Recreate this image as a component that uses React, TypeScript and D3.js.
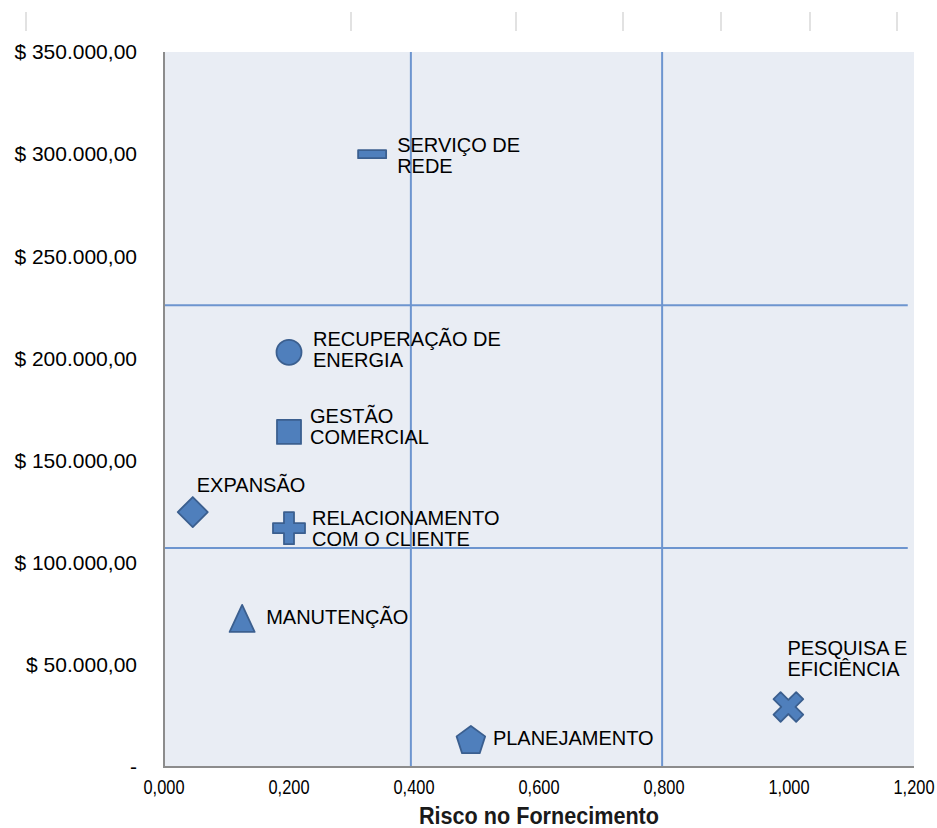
import React from "react";
import * as d3 from "d3";

const names: string[][] = [
  ["SERVIÇO DE", "REDE"],
  ["RECUPERAÇÃO DE", "ENERGIA"],
  ["GESTÃO", "COMERCIAL"],
  ["EXPANSÃO"],
  ["RELACIONAMENTO", "COM O CLIENTE"],
  ["MANUTENÇÃO"],
  ["PLANEJAMENTO"],
  ["PESQUISA E", "EFICIÊNCIA"],
];
const risk = [0.333, 0.2, 0.2, 0.046, 0.2, 0.125, 0.491, 0.999];
const cost = [300000, 203000, 164000, 124800, 116900, 72000, 13200, 29400];
const shapes = ["dash", "circle", "square", "diamond", "plus", "triangle", "pentagon", "x"];

const xTicks = [0, 0.2, 0.4, 0.6, 0.8, 1.0, 1.2];
const yTicks = [0, 50000, 100000, 150000, 200000, 250000, 300000, 350000];
const quadX = [0.395, 0.797];
const quadY = [226000, 107200];

// label layout (offset from marker, in px), style only
const labelOffsets: [number, number][] = [
  [25, 2.4], [24, -1.8], [21, -4.5], [4, -26], [23, 1.3], [24, -2], [22, -1], [-1, -47.5],
];

const W = 937, H = 828;
const x = d3.scaleLinear().domain([0, 1.2]).range([164, 914]);
const y = d3.scaleLinear().domain([0, 350000]).range([767, 52]);

const loc = d3.formatLocale({ decimal: ",", thousands: ".", grouping: [3], currency: ["$ ", ""] });
const fy = loc.format("$,.2f");
const fx = loc.format(".3f");

function shapePath(s: string): string {
  switch (s) {
    case "circle": {
      const p = d3.path(); p.arc(0, 0, 12.5, 0, Math.PI * 2); p.closePath(); return p.toString();
    }
    case "square": return "M-12,-12H12V12H-12Z";
    case "diamond": return "M0,-15L15,0L0,15L-15,0Z";
    case "triangle": return "M0,-15L12.5,12L-12.5,12Z";
    case "dash": return "M-14,-4H14V4H-14Z";
    case "plus": {
      const a = 16, b = 5;
      return `M${-b},${-a}H${b}V${-b}H${a}V${b}H${b}V${a}H${-b}V${b}H${-a}V${-b}H${-b}Z`;
    }
    case "x": {
      const a = 16, b = 5;
      const pts = [[-b, -a], [b, -a], [b, -b], [a, -b], [a, b], [b, b], [b, a], [-b, a], [-b, b], [-a, b], [-a, -b], [-b, -b]];
      const c = Math.SQRT1_2;
      return "M" + pts.map(([px, py]) => `${((px - py) * c).toFixed(2)},${((px + py) * c).toFixed(2)}`).join("L") + "Z";
    }
    case "pentagon": {
      const r = 15;
      const pts = d3.range(5).map(i => {
        const ang = -Math.PI / 2 + (i * 2 * Math.PI) / 5;
        return `${(r * Math.cos(ang)).toFixed(2)},${(r * Math.sin(ang) + 1).toFixed(2)}`;
      });
      return "M" + pts.join("L") + "Z";
    }
  }
  return "";
}

const topMarks = [26, 351, 516, 623, 721, 810, 897];

export default function App() {
  const font = "'Liberation Sans', Arial, sans-serif";
  return (
    <svg width={W} height={H} style={{ position: "absolute", left: 0, top: 0, background: "#fff" }}>
      {topMarks.map((m, i) => (
        <line key={i} x1={m} x2={m} y1={12} y2={31} stroke="#d9d9d9" strokeWidth={1.5} />
      ))}
      <rect x={x(0)} y={y(350000)} width={x(1.2) - x(0)} height={y(0) - y(350000)} fill="#e9edf4" />
      {quadX.map((v, i) => (
        <line key={"qx" + i} x1={x(v)} x2={x(v)} y1={y(350000)} y2={y(0)} stroke="#6d95cf" strokeWidth={2} />
      ))}
      {quadY.map((v, i) => (
        <line key={"qy" + i} x1={x(0)} x2={x(1.19)} y1={y(v)} y2={y(v)} stroke="#6d95cf" strokeWidth={2} />
      ))}
      <line x1={x(0)} x2={x(0)} y1={y(350000)} y2={y(0) + 1} stroke="#8c8c8c" strokeWidth={2} />
      <line x1={x(0) - 1} x2={x(1.2)} y1={y(0)} y2={y(0)} stroke="#8c8c8c" strokeWidth={2} />
      {yTicks.map((t, i) => (
        <text key={"yt" + i} x={137} y={y(t)} dy="0.35em" textAnchor="end" fontFamily={font} fontSize={21} fill="#000">
          {t === 0 ? "-" : fy(t)}
        </text>
      ))}
      {xTicks.map((t, i) => (
        <text key={"xt" + i} transform={`translate(${x(t)},794) scale(0.82,1)`} textAnchor="middle" fontFamily={font} fontSize={20} fill="#000">
          {fx(t)}
        </text>
      ))}
      <text transform="translate(539,824) scale(0.9,1)" textAnchor="middle" fontFamily={font} fontWeight="bold" fontSize={24} fill="#1a1a1a">
        Risco no Fornecimento
      </text>
      {risk.map((r, i) => {
        const cx = x(r), cy = y(cost[i]);
        const [dx, dy] = labelOffsets[i];
        const lines = names[i];
        const lh = 21;
        const first = cy + dy - ((lines.length - 1) * lh) / 2 + 6;
        return (
          <g key={"p" + i}>
            <path d={shapePath(shapes[i])} transform={`translate(${cx},${cy})`} fill="#4f7fbc" stroke="#3b5f8f" strokeWidth={1.8} strokeLinejoin="round" />
            <text fontFamily={font} fontSize={20} fill="#000">
              {lines.map((l, j) => (
                <tspan key={j} x={cx + dx} y={first + j * lh}>{l}</tspan>
              ))}
            </text>
          </g>
        );
      })}
    </svg>
  );
}
